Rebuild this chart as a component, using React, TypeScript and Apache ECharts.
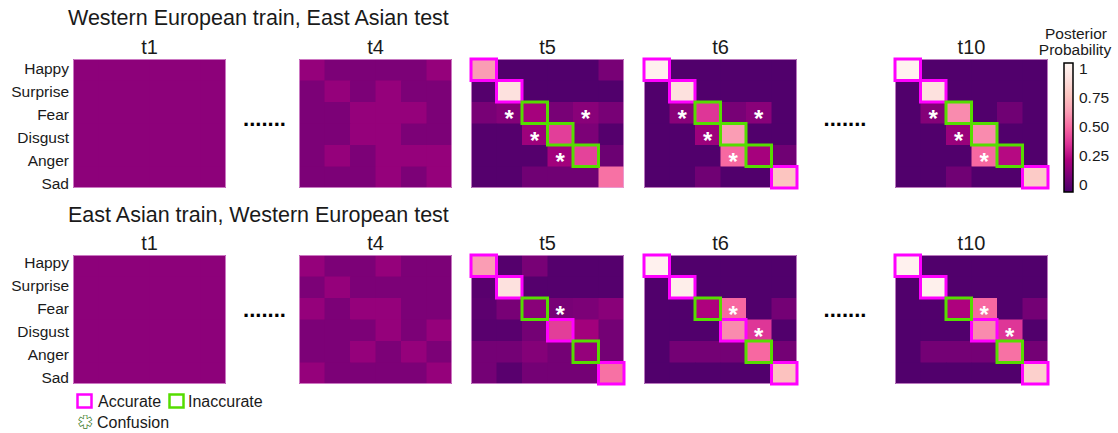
import React, { useEffect, useRef } from 'react';
import * as echarts from 'echarts';

const emotions = ['Happy', 'Surprise', 'Fear', 'Disgust', 'Anger', 'Sad'];
const predicted = ['Happy', 'Surprise', 'Fear', 'Disgust', 'Anger', 'Sad'];
const panelTitles = ['t1', 't4', 't5', 't6', 't10'];
const rowTitles = ['Western European train, East Asian test', 'East Asian train, Western European test'];
const colorbarTicks = [0, 0.25, 0.5, 0.75, 1];
const colorbarTitle = ['Posterior', 'Probability'];
const legendItems = ['Accurate', 'Inaccurate', 'Confusion'];
const rdPuReversed = ['#49006a', '#7a0177', '#ae017e', '#dd3497', '#f768a1', '#fa9fb5', '#fcc5c0', '#fde0dd', '#fff7f3'];

// rows = true emotion (Happy..Sad), columns = predicted emotion
const topT1 = [
  [0.17, 0.17, 0.17, 0.17, 0.17, 0.17],
  [0.17, 0.17, 0.17, 0.17, 0.17, 0.17],
  [0.17, 0.17, 0.17, 0.17, 0.17, 0.17],
  [0.17, 0.17, 0.17, 0.17, 0.17, 0.17],
  [0.17, 0.17, 0.17, 0.17, 0.17, 0.17],
  [0.17, 0.17, 0.17, 0.17, 0.17, 0.17],
];
const topT4 = [
  [0.19, 0.13, 0.13, 0.13, 0.13, 0.19],
  [0.13, 0.19, 0.13, 0.19, 0.13, 0.13],
  [0.13, 0.13, 0.19, 0.19, 0.19, 0.13],
  [0.13, 0.13, 0.19, 0.19, 0.13, 0.13],
  [0.13, 0.19, 0.13, 0.19, 0.19, 0.19],
  [0.13, 0.13, 0.13, 0.19, 0.13, 0.19],
];
const topT5 = [
  [0.62, 0.02, 0.02, 0.02, 0.02, 0.12],
  [0.03, 0.88, 0.02, 0.02, 0.02, 0.02],
  [0.12, 0.15, 0.23, 0.12, 0.16, 0.12],
  [0.03, 0.03, 0.21, 0.40, 0.13, 0.03],
  [0.03, 0.03, 0.03, 0.22, 0.41, 0.09],
  [0.03, 0.03, 0.10, 0.10, 0.10, 0.52],
];
const topT6 = [
  [0.97, 0.02, 0.02, 0.02, 0.02, 0.02],
  [0.02, 0.88, 0.02, 0.02, 0.02, 0.02],
  [0.02, 0.16, 0.38, 0.12, 0.16, 0.02],
  [0.02, 0.02, 0.21, 0.62, 0.02, 0.02],
  [0.02, 0.02, 0.02, 0.50, 0.23, 0.10],
  [0.02, 0.02, 0.10, 0.02, 0.02, 0.75],
];
const topT10 = [
  [0.98, 0.02, 0.02, 0.02, 0.02, 0.02],
  [0.02, 0.88, 0.02, 0.02, 0.02, 0.02],
  [0.02, 0.15, 0.58, 0.02, 0.10, 0.02],
  [0.02, 0.02, 0.20, 0.58, 0.02, 0.02],
  [0.02, 0.02, 0.02, 0.50, 0.27, 0.02],
  [0.02, 0.02, 0.10, 0.02, 0.02, 0.78],
];
const botT1 = [
  [0.17, 0.17, 0.17, 0.17, 0.17, 0.17],
  [0.17, 0.17, 0.17, 0.17, 0.17, 0.17],
  [0.17, 0.17, 0.17, 0.17, 0.17, 0.17],
  [0.17, 0.17, 0.17, 0.17, 0.17, 0.17],
  [0.17, 0.17, 0.17, 0.17, 0.17, 0.17],
  [0.17, 0.17, 0.17, 0.17, 0.17, 0.17],
];
const botT4 = [
  [0.19, 0.13, 0.13, 0.19, 0.13, 0.13],
  [0.13, 0.19, 0.13, 0.13, 0.13, 0.13],
  [0.19, 0.13, 0.19, 0.19, 0.13, 0.13],
  [0.13, 0.13, 0.13, 0.19, 0.13, 0.19],
  [0.13, 0.13, 0.19, 0.13, 0.19, 0.13],
  [0.19, 0.13, 0.13, 0.13, 0.13, 0.19],
];
const botT5 = [
  [0.62, 0.03, 0.12, 0.03, 0.03, 0.03],
  [0.04, 0.88, 0.03, 0.03, 0.03, 0.03],
  [0.05, 0.12, 0.16, 0.12, 0.13, 0.16],
  [0.04, 0.04, 0.11, 0.40, 0.22, 0.11],
  [0.11, 0.11, 0.15, 0.11, 0.19, 0.11],
  [0.11, 0.04, 0.11, 0.11, 0.11, 0.52],
];
const botT6 = [
  [0.97, 0.02, 0.02, 0.02, 0.02, 0.02],
  [0.02, 0.95, 0.02, 0.02, 0.02, 0.02],
  [0.02, 0.02, 0.25, 0.50, 0.02, 0.11],
  [0.02, 0.02, 0.02, 0.58, 0.38, 0.02],
  [0.02, 0.11, 0.11, 0.11, 0.50, 0.11],
  [0.02, 0.02, 0.02, 0.02, 0.02, 0.74],
];
const botT10 = [
  [0.97, 0.02, 0.02, 0.02, 0.02, 0.02],
  [0.02, 0.96, 0.02, 0.02, 0.02, 0.02],
  [0.02, 0.02, 0.25, 0.50, 0.02, 0.11],
  [0.02, 0.02, 0.02, 0.58, 0.38, 0.02],
  [0.02, 0.11, 0.11, 0.11, 0.52, 0.11],
  [0.02, 0.02, 0.02, 0.02, 0.02, 0.80],
];

// diagonal boxes: rows marked accurate / inaccurate
const topAccurate = [[], [], [0, 1], [0, 1, 5], [0, 1, 5]];
const topInaccurate = [[], [], [2, 3, 4], [2, 3, 4], [2, 3, 4]];
const botAccurate = [[], [], [0, 1, 3, 5], [0, 1, 3, 5], [0, 1, 3, 5]];
const botInaccurate = [[], [], [2, 4], [2, 4], [2, 4]];
// confusion asterisks: [row, col]
const topConfusion = [[], [], [[2, 1], [2, 4], [3, 2], [4, 3]], [[2, 1], [2, 4], [3, 2], [4, 3]], [[2, 1], [3, 2], [4, 3]]];
const botConfusion = [[], [], [[2, 3]], [[2, 3], [3, 4]], [[2, 3], [3, 4]]];

const FONT = '"Liberation Sans", Arial, Helvetica, sans-serif';
const TXT = '#1a1a1a';

export default function App() {
  const ref = useRef<HTMLDivElement>(null);
  useEffect(() => {
    document.body.style.margin = '0';
    const chart = echarts.init(ref.current!, null, { renderer: 'svg' });

    const lefts = [73, 299, 471, 644, 895];
    const panelW = 153;
    const tops = [59, 255];
    const panelH = 129;
    const mats = [[topT1, topT4, topT5, topT6, topT10], [botT1, botT4, botT5, botT6, botT10]];
    const accs = [topAccurate, botAccurate];
    const inaccs = [topInaccurate, botInaccurate];
    const confs = [topConfusion, botConfusion];

    const grid: any[] = [];
    const xAxis: any[] = [];
    const yAxis: any[] = [];
    const series: any[] = [];
    const heatIdx: number[] = [];

    for (let r = 0; r < 2; r++) {
      for (let p = 0; p < 5; p++) {
        const gi = r * 5 + p;
        grid.push({ left: lefts[p], top: tops[r], width: panelW, height: panelH, show: false });
        xAxis.push({ type: 'category', gridIndex: gi, data: predicted, show: false });
        yAxis.push({ type: 'category', gridIndex: gi, data: emotions, inverse: true, show: false });
        const data: number[][] = [];
        mats[r][p].forEach((row, ri) => row.forEach((v, ci) => data.push([ci, ri, v])));
        heatIdx.push(series.length);
        series.push({
          type: 'custom', xAxisIndex: gi, yAxisIndex: gi, data, silent: true, z: 2,
          encode: { x: 0, y: 1 },
          renderItem: (params: any, api: any) => {
            const c = api.coord([api.value(0), api.value(1)]);
            const s = api.size([1, 1]);
            const ci = api.value(0);
            const ri = api.value(1);
            const padR = ci < 5 ? 0.6 : 0;
            const padB = ri < 5 ? 0.6 : 0;
            return {
              type: 'rect',
              shape: { x: c[0] - s[0] / 2, y: c[1] - s[1] / 2, width: s[0] + padR, height: s[1] + padB },
              style: { fill: api.visual('color') },
            };
          },
        });
        // faint panel outline
        series.push({
          type: 'custom', xAxisIndex: gi, yAxisIndex: gi, data: [[0, 0]], silent: true, z: 3, clip: false,
          renderItem: (params: any, api: any) => {
            const cs = params.coordSys;
            return {
              type: 'rect',
              shape: { x: cs.x + 0.5, y: cs.y + 0.5, width: cs.width - 1, height: cs.height - 1 },
              style: { fill: 'none', stroke: 'rgba(230,170,225,0.7)', lineWidth: 1 },
            };
          },
        });
        const boxes: number[][] = [];
        accs[r][p].forEach((ri: number) => boxes.push([ri, ri, 0]));
        inaccs[r][p].forEach((ri: number) => boxes.push([ri, ri, 1]));
        if (boxes.length) {
          series.push({
            type: 'custom', xAxisIndex: gi, yAxisIndex: gi, data: boxes, clip: false, silent: true, z: 5,
            renderItem: (params: any, api: any) => {
              const c = api.coord([api.value(0), api.value(1)]);
              const s = api.size([1, 1]);
              return {
                type: 'rect',
                shape: { x: c[0] - s[0] / 2, y: c[1] - s[1] / 2, width: s[0], height: s[1] },
                style: { fill: 'none', stroke: api.value(2) === 0 ? '#ff00ff' : '#55dd00', lineWidth: 3 },
              };
            },
          });
        }
        const cf = confs[r][p].map((rc: number[]) => [rc[1], rc[0]]);
        if (cf.length) {
          series.push({
            type: 'custom', xAxisIndex: gi, yAxisIndex: gi, data: cf, clip: false, silent: true, z: 6,
            renderItem: (params: any, api: any) => {
              const c = api.coord([api.value(0), api.value(1)]);
              return {
                type: 'text', x: c[0], y: c[1] + 6,
                style: { text: '*', fill: '#ffffff', fontSize: 24, fontWeight: 'bold', fontFamily: FONT, align: 'center', verticalAlign: 'middle' },
              };
            },
          });
        }
      }
    }
    // row label grids
    const labelTops = [56.5, 250.5];
    const labelH = [138, 139];
    for (let r = 0; r < 2; r++) {
      const gi = grid.length;
      grid.push({ left: 73, top: labelTops[r], width: 1, height: labelH[r], show: false });
      xAxis.push({ type: 'value', gridIndex: gi, show: false });
      yAxis.push({
        type: 'category', gridIndex: gi, data: emotions, inverse: true,
        axisLine: { show: false }, axisTick: { show: false },
        axisLabel: { margin: 4, fontSize: 15.5, color: TXT, fontFamily: FONT },
      });
    }
    // colorbar axis
    const cbi = grid.length;
    grid.push({ left: 1064, top: 68, width: 9, height: 116, show: false });
    xAxis.push({ type: 'value', gridIndex: cbi, show: false });
    yAxis.push({
      type: 'value', gridIndex: cbi, min: 0, max: 1, interval: 0.25, position: 'right',
      axisLine: { show: false }, axisTick: { show: false }, splitLine: { show: false },
      axisLabel: {
        margin: 6, fontSize: 15.5, color: TXT, fontFamily: FONT,
        formatter: (v: number) => (colorbarTicks.includes(v) && (v === 0 || v === 1) ? String(v) : v.toFixed(2)),
      },
    });

    const graphic: any[] = [];
    const txt = (text: string, x: number, y: number, fontSize: number, align = 'left', extra: any = {}) => ({
      type: 'text', x, y, silent: true,
      style: { text, fontSize, fontFamily: FONT, fill: TXT, align, verticalAlign: 'middle', ...extra },
    });
    graphic.push(txt(rowTitles[0], 68, 18, 21.5));
    graphic.push(txt(rowTitles[1], 68, 215, 21.5));
    const titleY = [46.5, 243];
    for (let r = 0; r < 2; r++) {
      for (let p = 0; p < 5; p++) graphic.push(txt(panelTitles[p], lefts[p] + panelW / 2, titleY[r], 20, 'center'));
    }
    const dotY = [125, 316];
    for (let r = 0; r < 2; r++) {
      graphic.push(txt('.......', 264.5, dotY[r] - 7, 22, 'center', { fontWeight: 'bold', fill: '#000' }));
      graphic.push(txt('.......', 845, dotY[r] - 7, 22, 'center', { fontWeight: 'bold', fill: '#000' }));
    }
    // colorbar
    graphic.push({
      type: 'rect', silent: true,
      shape: { x: 1064, y: 63, width: 9, height: 129 },
      style: {
        fill: new echarts.graphic.LinearGradient(0, 1, 0, 0, rdPuReversed.map((c, i) => ({ offset: i / (rdPuReversed.length - 1), color: c }))),
        stroke: '#000', lineWidth: 1.5,
      },
    });
    graphic.push(txt(colorbarTitle[0], 1076, 33, 15.5, 'center'));
    graphic.push(txt(colorbarTitle[1], 1075, 49, 15.5, 'center'));
    // legend
    graphic.push({ type: 'rect', silent: true, shape: { x: 77.5, y: 394.5, width: 14, height: 13 }, style: { fill: 'none', stroke: '#ff00ff', lineWidth: 2.5 } });
    graphic.push(txt(legendItems[0], 98, 401, 16));
    graphic.push({ type: 'rect', silent: true, shape: { x: 169.5, y: 394.5, width: 14, height: 13 }, style: { fill: 'none', stroke: '#55dd00', lineWidth: 2.5 } });
    graphic.push(txt(legendItems[1], 188, 401, 16));
    graphic.push(txt('\u2731', 85, 422, 17, 'center', { fill: '#ffffff', stroke: '#3a7a2a', lineWidth: 1.4, fontFamily: '"DejaVu Sans", sans-serif' }));
    graphic.push(txt(legendItems[2], 97, 422, 16));

    chart.setOption({
      animation: false,
      backgroundColor: '#ffffff',
      grid, xAxis, yAxis, series, graphic,
      visualMap: {
        type: 'continuous', show: false, min: 0, max: 1, seriesIndex: heatIdx, dimension: 2,
        inRange: { color: rdPuReversed },
      },
    });
    return () => chart.dispose();
  }, []);
  return <div ref={ref} style={{ width: 1118, height: 433 }} />;
}
